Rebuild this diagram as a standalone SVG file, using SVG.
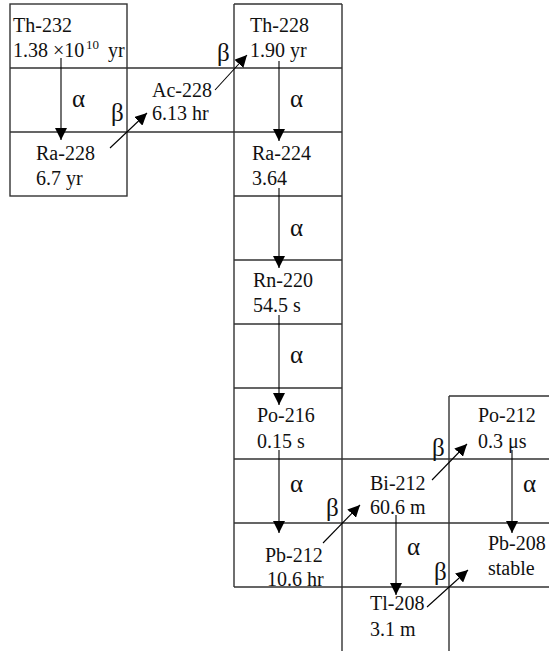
<svg xmlns="http://www.w3.org/2000/svg" width="549" height="651" viewBox="0 0 549 651">
<style>
.grid{stroke:#333;stroke-width:1.4;fill:none}
.arr{stroke:#000;stroke-width:1.1;fill:none;marker-end:url(#ah)}
.t{font-family:"Times New Roman",Tinos,"Nimbus Roman","Liberation Serif","DejaVu Serif",serif;fill:#111}
</style>
<defs>
<marker id="ah" markerUnits="userSpaceOnUse" markerWidth="12" markerHeight="12" refX="12" refY="6" orient="auto">
<path d="M0,0 L12,6 L0,12 z" fill="#000"/>
</marker>
</defs>
<rect width="549" height="651" fill="#fff"/>
<g id="grid" class="grid">
<rect x="10" y="4" width="117" height="192"/>
<path d="M10,68 H342 M10,132 H342"/>
<path d="M234,4 H342 M234,4 V587 M342,4 V651"/>
<path d="M234,196 H342 M234,260 H342 M234,324 H342 M234,388 H342"/>
<path d="M234,459 H549 M234,523 H549 M234,587 H549"/>
<path d="M449,396 H549 M449,396 V651"/>
</g>
<g id="connectors">
<line class="arr" x1="61" y1="58" x2="61" y2="140"/>
<line class="arr" x1="110" y1="148" x2="147" y2="113"/>
<line class="arr" x1="215" y1="90" x2="247" y2="55"/>
<line class="arr" x1="279" y1="61" x2="279" y2="141"/>
<line class="arr" x1="279" y1="188" x2="279" y2="268"/>
<line class="arr" x1="279" y1="315" x2="279" y2="405"/>
<line class="arr" x1="279" y1="450" x2="279" y2="533"/>
<line class="arr" x1="432" y1="480" x2="467" y2="444"/>
<line class="arr" x1="512" y1="450" x2="512" y2="533"/>
<line class="arr" x1="323" y1="543" x2="360" y2="505"/>
<line class="arr" x1="396" y1="515" x2="396" y2="595"/>
<line class="arr" x1="427" y1="607" x2="468" y2="570"/>
</g>
<g id="labels" class="t" font-size="25">
<text x="72" y="107">α</text>
<text x="290" y="107">α</text>
<text x="290" y="236">α</text>
<text x="290" y="363">α</text>
<text x="290" y="492">α</text>
<text x="523" y="492">α</text>
<text x="407" y="555">α</text>
<text x="111" y="121">β</text>
<text x="217" y="61">β</text>
<text x="432" y="456">β</text>
<text x="326" y="516">β</text>
<text x="434" y="580">β</text>
</g>
<g id="nodes" class="t" font-size="20">
<g id="th232"><text x="13" y="32">Th-232</text><text x="13" y="57">1.38 ×10<tspan font-size="13" x="86" dy="-8">10</tspan><tspan x="108" dy="8">yr</tspan></text></g>
<g id="ra228"><text x="36" y="160">Ra-228</text><text x="36" y="185">6.7 yr</text></g>
<g id="ac228"><text x="152" y="97">Ac-228</text><text x="152" y="120">6.13 hr</text></g>
<g id="th228"><text x="250" y="32">Th-228</text><text x="250" y="57">1.90 yr</text></g>
<g id="ra224"><text x="252" y="160">Ra-224</text><text x="252" y="185">3.64</text></g>
<g id="rn220"><text x="253" y="287">Rn-220</text><text x="253" y="312">54.5 s</text></g>
<g id="po216"><text x="257" y="422">Po-216</text><text x="257" y="448">0.15 s</text></g>
<g id="po212"><text x="478" y="422">Po-212</text><text x="478" y="448">0.3 μs</text></g>
<g id="bi212"><text x="370" y="490">Bi-212</text><text x="370" y="514">60.6 m</text></g>
<g id="pb212"><text x="265" y="562">Pb-212</text><text x="267" y="586">10.6 hr</text></g>
<g id="pb208"><text x="488" y="550">Pb-208</text><text x="488" y="575">stable</text></g>
<g id="tl208"><text x="370" y="610">Tl-208</text><text x="370" y="636">3.1 m</text></g>
</g>
</svg>
